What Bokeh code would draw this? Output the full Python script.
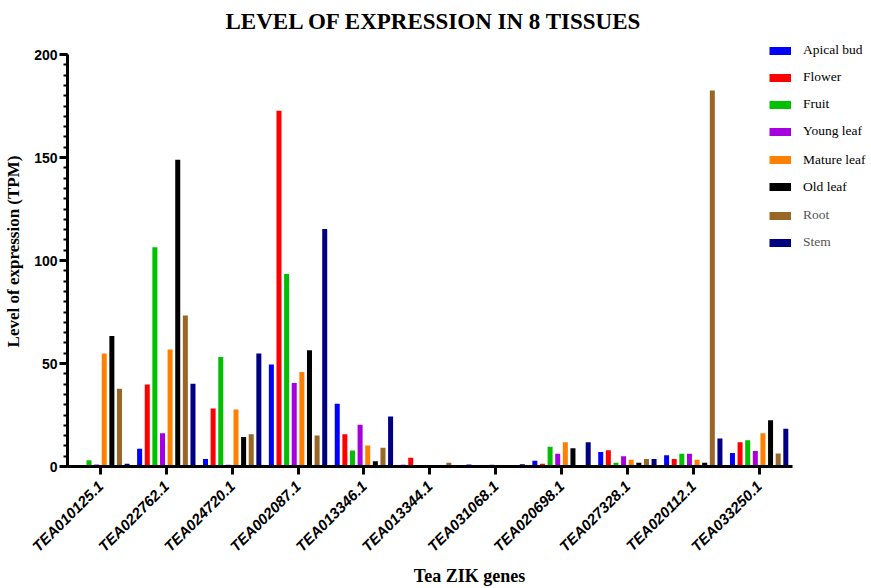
import math
from bokeh.plotting import figure
from bokeh.models import (Range1d, Legend, LegendItem, ColumnDataSource,
                          SingleIntervalTicker, FixedTicker)
from bokeh.transform import dodge
from bokeh.embed import file_html
from bokeh.resources import INLINE

genes = ["TEA010125.1", "TEA022762.1", "TEA024720.1", "TEA002087.1", "TEA013346.1",
         "TEA013344.1", "TEA031068.1", "TEA020698.1", "TEA027328.1", "TEA020112.1",
         "TEA033250.1"]

tissues = ["Apical bud", "Flower", "Fruit", "Young leaf", "Mature leaf", "Old leaf", "Root", "Stem"]

apical_bud = [0.0, 8.6, 3.7, 49.5, 30.5, 0.8, 1.0, 2.8, 7.0, 5.5, 6.5]
flower = [0.0, 39.8, 28.1, 172.7, 15.6, 4.2, 0.0, 1.3, 7.9, 3.6, 11.8]
fruit = [3.0, 106.4, 53.2, 93.4, 7.8, 0.0, 0.0, 9.6, 1.8, 6.2, 12.7]
young_leaf = [1.0, 16.2, 0.8, 40.5, 20.3, 0.0, 0.8, 6.2, 5.0, 6.2, 7.5]
mature_leaf = [54.8, 56.8, 27.7, 45.9, 10.2, 0.0, 0.0, 11.8, 3.3, 3.3, 16.2]
old_leaf = [63.4, 148.9, 14.3, 56.4, 2.6, 0.0, 0.0, 8.9, 1.8, 1.8, 22.5]
root = [37.8, 73.3, 15.7, 15.1, 9.1, 1.8, 0.0, 0.0, 3.7, 182.5, 6.3]
stem = [1.3, 40.2, 54.8, 115.3, 24.3, 0.0, 1.1, 11.8, 3.7, 13.6, 18.3]

series = [apical_bud, flower, fruit, young_leaf, mature_leaf, old_leaf, root, stem]
colors = ["#0000FF", "#FF0000", "#00C000", "#A500E0", "#FF8000", "#000000", "#996626", "#000080"]

pos = list(range(1, len(genes) + 1))
data = {"pos": pos}
keys = ["s%d" % i for i in range(len(series))]
for k, s in zip(keys, series):
    data[k] = s
source = ColumnDataSource(data)

W, H = 871, 588
LEFT, TOP, BOTTOM = 67, 36, 122
frame_w = W - LEFT
frame_h = H - TOP - BOTTOM
cat_px = 65.87
px_per_unit = 2.06
x_end = 0.5 + frame_w / cat_px
y_end = frame_h / px_per_unit

p = figure(x_range=Range1d(0.5, x_end), y_range=Range1d(0, y_end),
           width=W, height=H, output_backend="svg", toolbar_location=None,
           min_border_left=LEFT, min_border_right=0, min_border_top=TOP,
           min_border_bottom=BOTTOM)

step = 0.1157
bar_w = 0.076
for i, (k, c) in enumerate(zip(keys, colors)):
    p.vbar(x=dodge("pos", (i - 3.5) * step), top=k, width=bar_w,
           source=source, fill_color=c, line_color=None)

# legend proxies (single NaN point: draws nothing in the plot, only the legend swatch)
nan = float("nan")
proxies = []
for t, c in zip(tissues, colors):
    r = p.line(x=[nan], y=[nan], line_color=c, line_width=8)
    proxies.append(r)

def make_legend(idx, top_y, color):
    n = len(idx)
    lg = Legend(items=[LegendItem(label=tissues[i], renderers=[proxies[i]]) for i in idx],
                location=(769 - LEFT, (H - BOTTOM) - top_y - n * 27),
                glyph_width=22, glyph_height=27, label_height=27, spacing=0,
                padding=0, margin=0, label_standoff=12, border_line_color=None,
                background_fill_alpha=0, label_text_font="Liberation Serif",
                label_text_font_size="13.5px", label_text_color=color)
    p.add_layout(lg, "center")

make_legend([0, 1, 2, 3], 50 - 13.5, "#000000")
make_legend([4, 5], 159.6 - 13.5, "#000000")
make_legend([6, 7], 215 - 13.5, "#555555")

p.title.text = "LEVEL OF EXPRESSION IN 8 TISSUES"
p.title.align = "left"
p.title.text_font = "Liberation Serif"
p.title.text_font_size = "23px"
p.title.text_font_style = "bold"
p.title.text_color = "#000000"
p.title.standoff = 5
p.title.offset = 225 - LEFT

p.xgrid.visible = False
p.ygrid.visible = False
p.outline_line_color = None

ya = p.yaxis[0]
ya.bounds = (0, 200)
ya.ticker = SingleIntervalTicker(interval=50, num_minor_ticks=10)
ya.axis_line_width = 3
ya.major_tick_line_width = 3
ya.major_tick_out = 8
ya.major_tick_in = 0
ya.minor_tick_out = 4
ya.minor_tick_in = 0
ya.minor_tick_line_width = 2
ya.major_label_text_font = "Liberation Sans"
ya.major_label_text_font_style = "bold"
ya.major_label_text_font_size = "14px"
ya.major_label_text_color = "#000000"
ya.major_label_standoff = 2
ya.axis_label = "Level of expression (TPM)"
ya.axis_label_text_font = "Liberation Serif"
ya.axis_label_text_font_style = "bold"
ya.axis_label_text_font_size = "17px"
ya.axis_label_text_color = "#000000"
ya.axis_label_standoff = 8

xa = p.xaxis[0]
xa.bounds = (0.5, 0.5 + len(genes))
xa.ticker = FixedTicker(ticks=pos)
xa.major_label_overrides = {g_pos: g for g_pos, g in zip(pos, genes)}
xa.axis_line_width = 3
xa.major_tick_line_width = 3
xa.major_tick_out = 8
xa.major_tick_in = 0
xa.minor_tick_out = 0
xa.minor_tick_in = 0
xa.major_label_orientation = math.pi / 4
xa.major_label_text_font = "Liberation Sans"
xa.major_label_text_font_style = "bold italic"
xa.major_label_text_font_size = "15px"
xa.major_label_text_color = "#000000"
xa.major_label_standoff = 9
xa.axis_label = "Tea ZIK genes"
xa.axis_label_text_font = "Liberation Serif"
xa.axis_label_text_font_style = "bold"
xa.axis_label_text_font_size = "18px"
xa.axis_label_text_color = "#000000"
xa.axis_label_standoff = 2

open("out.html", "w").write(file_html(p, INLINE))
